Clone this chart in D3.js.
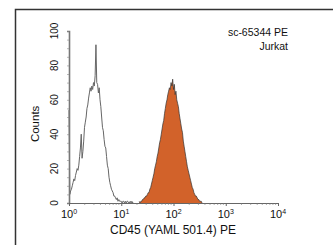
<!DOCTYPE html>
<html>
<head>
<meta charset="utf-8">
<script src="https://cdn.jsdelivr.net/npm/d3@7"></script>
<style>
  body { margin: 0; background: #fff; }
  text { font-family: "Liberation Sans Narrow", "Liberation Sans", Arial, sans-serif; fill: #111; }
</style>
</head>
<body>
<div id="plot"></div>
<script>
// histogram data: 64 channels per decade, counts listed from a start channel
const chPerDecade = 64;

const ctrlStart = 0;
const ctrlCounts = [54, 5, 7, 8, 10, 12, 14, 13, 16, 18, 20, 19, 22, 27, 32, 40, 26, 30, 36, 44,
  47, 50, 55, 57, 61, 64, 67, 65, 68, 66, 70, 68, 74, 92, 70, 69, 64, 67, 60, 56,
  50, 44, 42, 37, 33, 32, 27, 22, 20, 15, 12, 10, 8, 7, 6, 4, 4, 3, 2, 3,
  1, 2, 1, 1, 1, 0, 1, 1, 0, 1, 0, 1, 1, 0, 0, 1, 0, 1, 0, 0];

const pe_start = 86;
const peCounts = [1, 0, 1, 1, 2, 2, 3, 3, 4, 4, 5, 6, 6, 8, 9, 11, 13, 15, 17, 20,
  22, 24, 27, 29, 32, 35, 37, 40, 43, 46, 48, 52, 55, 58, 60, 63, 65, 67, 66, 70,
  68, 72, 66, 69, 63, 65, 60, 58, 56, 52, 49, 46, 43, 41, 36, 33, 30, 27, 24, 21,
  19, 17, 15, 13, 11, 9, 8, 6, 5, 4, 4, 3, 2, 2, 1, 1, 1, 0];

const yTicks = [0, 20, 40, 60, 80, 100];
const xTicks = [1, 10, 100, 1000, 10000];
const xLabel = "CD45 (YAML 501.4) PE";
const yLabel = "Counts";
const noteLines = ["sc-65344 PE", "Jurkat"];

const w = 333, h = 245;

const svg = d3.select("div#plot")
  .append("svg")
  .attr("width", w)
  .attr("height", h);

// outer frame (runs off the right and bottom edges)
svg.append("rect")
  .attr("x", 15.5).attr("y", 9.5)
  .attr("width", 340).attr("height", 260)
  .attr("fill", "none")
  .attr("stroke", "#333")
  .attr("stroke-width", 1.5);

const x = d3.scaleLog().domain([1, 1e4]).range([69, 278]);
const y = d3.scaleLinear().domain([0, 100]).range([203, 31]);

const toPoints = (start, counts) => counts.map((c, i) => [Math.pow(10, (start + i) / chPerDecade), c]);

const ctrl = toPoints(ctrlStart, ctrlCounts);
const pe = toPoints(pe_start, peCounts);

const area = d3.area()
  .x(d => x(d[0]))
  .y0(y(0))
  .y1(d => y(d[1]));

const line = d3.line()
  .x(d => x(d[0]))
  .y(d => y(d[1]));

// control histogram (open)
svg.append("path")
  .attr("d", area(ctrl))
  .attr("fill", "#fff");
svg.append("path")
  .attr("d", line(ctrl))
  .attr("fill", "none")
  .attr("stroke", "#666")
  .attr("stroke-width", 1);

// stained histogram (filled)
svg.append("path")
  .attr("d", area(pe))
  .attr("fill", "#d2622a");
svg.append("path")
  .attr("d", line(pe))
  .attr("fill", "none")
  .attr("stroke", "#333")
  .attr("stroke-width", 0.7);

// y axis
const yAxis = svg.append("g")
  .attr("transform", "translate(69,0)")
  .call(d3.axisLeft(y).tickValues(d3.range(0, 101, 5)).tickSize(2).tickFormat(""));
yAxis.select(".domain").attr("stroke", "#777").attr("stroke-width", 1.6);
yAxis.selectAll(".tick line").attr("stroke", "#888").attr("stroke-width", 0.6);

yTicks.forEach(v => {
  svg.append("text")
    .attr("transform", `translate(58,${y(v)}) rotate(-90)`)
    .attr("text-anchor", "middle")
    .attr("font-size", 10)
    .text(v);
});

svg.append("text")
  .attr("transform", `translate(39,${y(46)}) rotate(-90)`)
  .attr("text-anchor", "middle")
  .attr("font-size", 11.5)
  .text(yLabel);

// x axis with log minor ticks
const minor = [];
xTicks.slice(0, -1).forEach(d => { for (let k = 2; k < 10; k++) minor.push(d * k); });

const xAxis = svg.append("g")
  .attr("transform", `translate(0,${y(0)})`)
  .call(d3.axisBottom(x).tickValues(xTicks).tickSize(3).tickFormat(""));
xAxis.select(".domain").attr("stroke", "#666").attr("stroke-width", 1);
xAxis.selectAll(".tick line").attr("stroke", "#666");
xAxis.selectAll(".minor")
  .data(minor)
  .enter().append("line")
  .attr("x1", d => x(d)).attr("x2", d => x(d))
  .attr("y1", 0).attr("y2", 2)
  .attr("stroke", "#777").attr("stroke-width", 0.6);

xTicks.forEach((v, i) => {
  const t = svg.append("text")
    .attr("x", x(v))
    .attr("y", 218)
    .attr("text-anchor", "middle")
    .attr("font-size", 11);
  t.append("tspan").text("10");
  t.append("tspan").attr("dy", -4).attr("font-size", 7).text(i);
});

svg.append("text")
  .attr("x", 173)
  .attr("y", 234)
  .attr("text-anchor", "middle")
  .attr("font-size", 12)
  .text(xLabel);

noteLines.forEach((s, i) => {
  svg.append("text")
    .attr("x", 288)
    .attr("y", 36 + i * 14)
    .attr("text-anchor", "end")
    .attr("font-size", 10.5)
    .text(s);
});
</script>
</body>
</html>
